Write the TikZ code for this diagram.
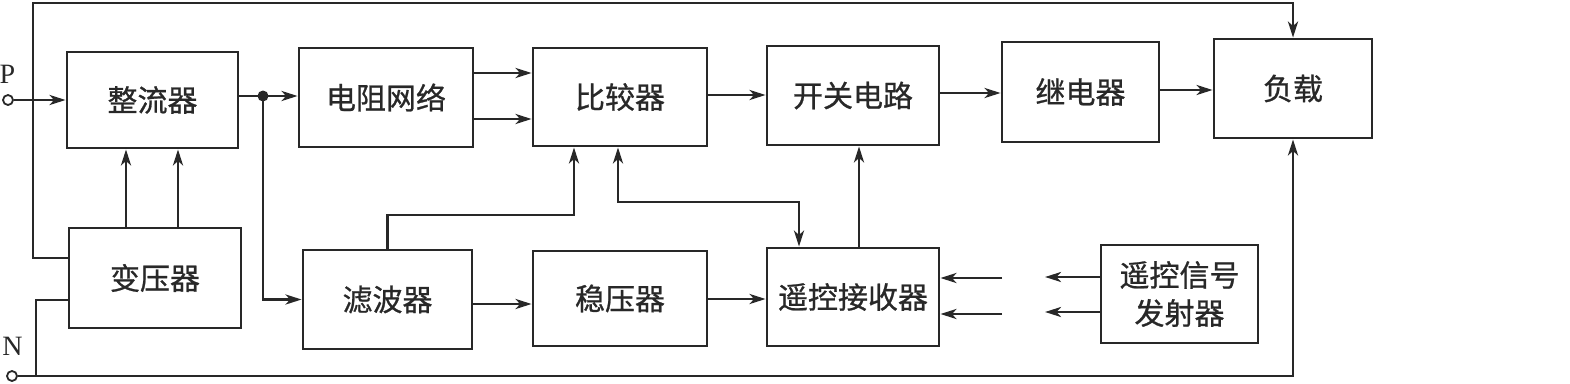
\documentclass[tikz,border=0pt]{standalone}
\usepackage{fontspec}
\usepackage{tikz}
\usetikzlibrary{arrows.meta}
\setmainfont{Liberation Serif}
\newfontfamily\cjk[FakeBold=0.8]{Noto Sans CJK SC}
\definecolor{lineGray}{RGB}{40,40,40}

\begin{document}
\begin{tikzpicture}[x=1pt, y=-1pt, line width=2.8pt, color=lineGray,
  blk/.style={draw, inner sep=0pt, align=center, font=\cjk\fontsize{30}{38}\selectfont},
  arr/.style={-{Stealth[length=16pt,width=10pt,inset=4.5pt]}},
  arrboth/.style={{Stealth[length=16pt,width=10pt,inset=4.5pt]}-{Stealth[length=16pt,width=10pt,inset=4.5pt]}},
  term/.style={circle, draw, fill=white, inner sep=0pt, minimum size=10pt, line width=1.8pt},
  lbl/.style={font=\fontsize{28}{28}\selectfont}]
  \useasboundingbox (0,0) rectangle (1570,383);

  \node[blk, minimum width=171pt, minimum height=96pt] (zl) at (152.5,100) {整流器};
  \node[blk, minimum width=172pt, minimum height=100pt] (byq) at (155,278) {变压器};
  \node[blk, minimum width=174pt, minimum height=99pt] (dzwl) at (386,97.5) {电阻网络};
  \node[blk, minimum width=169pt, minimum height=99pt] (lbq) at (387.5,299.5) {滤波器};
  \node[blk, minimum width=174pt, minimum height=98pt] (bjq) at (620,97) {比较器};
  \node[blk, minimum width=174pt, minimum height=95pt] (wyq) at (620,298.5) {稳压器};
  \node[blk, minimum width=172pt, minimum height=99pt] (kg) at (853,95.5) {开关电路};
  \node[blk, minimum width=172pt, minimum height=98pt] (yk) at (853,297) {遥控接收器};
  \node[blk, minimum width=157pt, minimum height=100pt] (jdq) at (1080.5,92) {继电器};
  \node[blk, minimum width=158pt, minimum height=99pt] (fz) at (1293,88.5) {负载};
  \node[blk, minimum width=157pt, minimum height=98pt] (fsq) at (1179.5,294) {遥控信号\\发射器};

  \node[term] (p) at (8,100) {};
  \node[term] (n) at (12,376) {};
  \node[lbl] (plbl) at (7.5,74) {P};
  \node[lbl] (nlbl) at (12.5,346) {N};

  \coordinate (j) at (263,96);
  \coordinate (rx1) at (1002,278);
  \coordinate (rx2) at (1002,314);
  \coordinate (tx1) at (1045,277);
  \coordinate (tx2) at (1045,312);

  \draw[arr] (p) -- (zl.west |- p);
  \draw[arr] (zl.east |- j) -- (dzwl.west |- j);
  \draw[arr] (j) |- (lbq.west);
  \fill (j) circle (5.5);
  \foreach \x in {126,178}
    \draw[arr] (byq.north -| \x,0) -- (zl.south -| \x,0);
  \draw[arr] (byq.west |- 0,258) -| (33,3) -| (fz.north);
  \draw (byq.west |- 0,300) -| (36,376);
  \draw[arr] (n) -| (fz.south);
  \foreach \y in {73,119}
    \draw[arr] (dzwl.east |- 0,\y) -- (bjq.west |- 0,\y);
  \draw[arr] (lbq.east |- 0,304) -- (wyq.west |- 0,304);
  \draw[arr] (lbq.north) |- (574,215) -- (bjq.south -| 574,0);
  \draw[arrboth] (bjq.south -| 618,0) |- (799,202) -- (yk.north -| 799,0);
  \draw[arr] (yk.north -| 859,0) -- (kg.south -| 859,0);
  \draw[arr] (bjq.east |- 0,95) -- (kg.west |- 0,95);
  \draw[arr] (wyq.east |- 0,299) -- (yk.west |- 0,299);
  \draw[arr] (kg.east |- 0,93) -- (jdq.west |- 0,93);
  \draw[arr] (jdq.east |- 0,90) -- (fz.west |- 0,90);
  \draw[arr] (rx1) -- (yk.east |- rx1);
  \draw[arr] (rx2) -- (yk.east |- rx2);
  \draw[arr] (fsq.west |- tx1) -- (tx1);
  \draw[arr] (fsq.west |- tx2) -- (tx2);
\end{tikzpicture}
\end{document}
